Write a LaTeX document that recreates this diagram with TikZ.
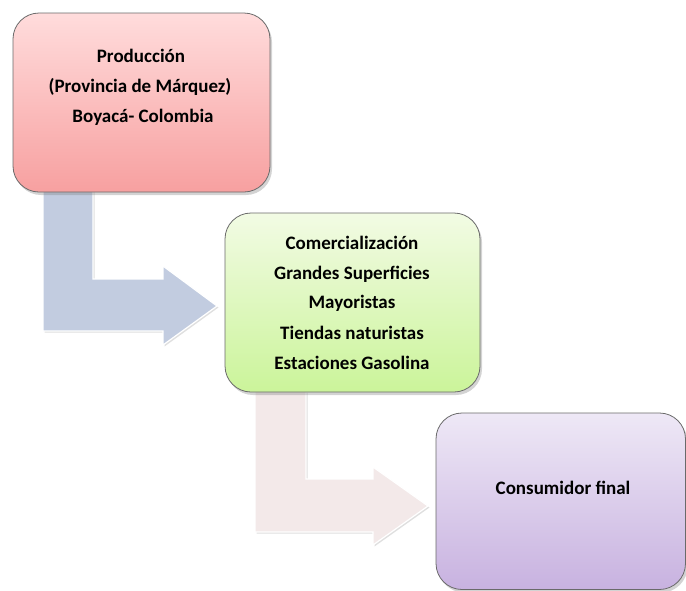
\documentclass[tikz,border=0pt]{standalone}
\usepackage{fontspec}
\setmainfont{Carlito}
\usetikzlibrary{shadows}
\definecolor{pinkTop}{HTML}{FFDCDC}
\definecolor{pinkBot}{HTML}{F7A0A0}
\definecolor{greenTop}{HTML}{F2FBE4}
\definecolor{greenBot}{HTML}{CBF49A}
\definecolor{violetTop}{HTML}{EEE8F6}
\definecolor{violetBot}{HTML}{C8B2E0}
\definecolor{arrowBlue}{HTML}{C2CCE0}
\definecolor{arrowRose}{HTML}{F3E9E9}
\definecolor{boxEdge}{HTML}{6A6A6A}
\tikzset{
  stagebox/.style={draw=boxEdge, line width=0.8pt, rounded corners=26pt,
    drop shadow={shadow xshift=2pt, shadow yshift=-3pt, opacity=0.35}},
  bentarrow/.style={draw=white, line width=1.2pt,
    drop shadow={shadow xshift=1.5pt, shadow yshift=-1.5pt, opacity=0.25}},
  label/.style={font=\fontsize{19}{22}\selectfont\bfseries, text=black, align=center}
}
\begin{document}
\begin{tikzpicture}[x=1pt,y=-1pt]
\useasboundingbox (0,0) rectangle (686,590);
% arrows (behind boxes)
\path[bentarrow, fill=arrowBlue] (43,190) -- (93,190) -- (93,279) -- (163,279) -- (163,266)
  -- (217,306) -- (163,345) -- (163,331) -- (43,331) -- cycle;
\path[bentarrow, fill=arrowRose] (255,391) -- (306,391) -- (306,479) -- (373,479) -- (373,467)
  -- (428,506) -- (373,545) -- (373,532) -- (255,532) -- cycle;
% boxes
\path[stagebox, top color=pinkTop, bottom color=pinkBot] (13,13) rectangle (270,192);
\path[stagebox, top color=greenTop, bottom color=greenBot] (225,213) rectangle (480,392);
\path[stagebox, top color=violetTop, bottom color=violetBot] (436,413) rectangle (685.5,589.5);
% text nodes
\node[label] (prod) at (141,56) {Producción};
\node[label] (prov) at (140,87) {(Provincia de Márquez)};
\node[label] (boy) at (143,117) {Boyacá- Colombia};
\node[label] (com) at (352,243) {Comercialización};
\node[label] (gs) at (352,274) {Grandes Superficies};
\node[label] (may) at (352,303) {Mayoristas};
\node[label] (tn) at (352,333) {Tiendas naturistas};
\node[label] (eg) at (352,363) {Estaciones Gasolina};
\node[label] (cons) at (563,488) {Consumidor final};
\end{tikzpicture}
\end{document}
